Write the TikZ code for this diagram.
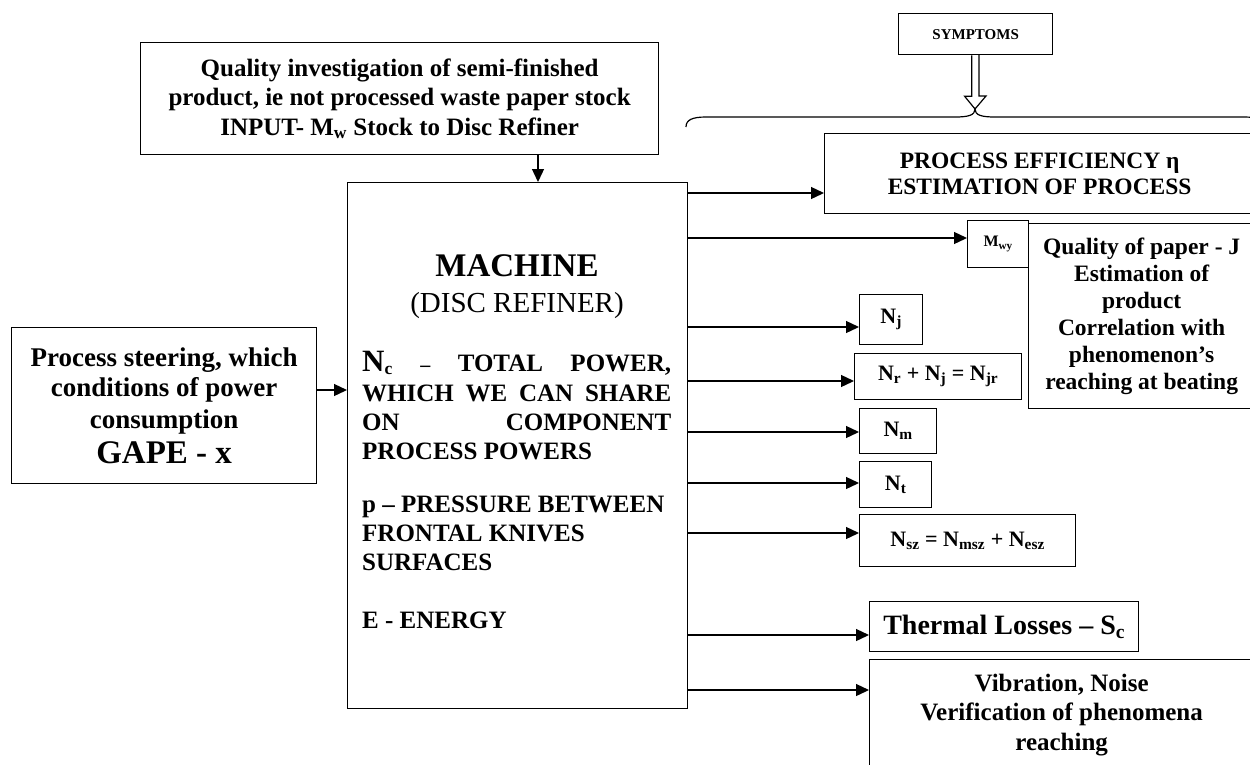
\documentclass[tikz,border=0pt]{standalone}
\usepackage{fontspec}
\setmainfont{Liberation Serif}
\usetikzlibrary{arrows.meta}
\newcommand\fs[2]{\fontsize{#1}{#2}\selectfont}
\begin{document}
\begin{tikzpicture}[x=1pt,y=-1pt,
  box/.style={draw, line width=1.3pt, inner sep=0pt, align=center, anchor=north west},
  arr/.style={line width=1.3pt, -{Triangle[length=13pt,width=12pt]}},
  mtext/.style={anchor=base west, inner sep=0pt, font=\fs{25}{30}\bfseries},
]
\useasboundingbox (0,0) rectangle (1250,764);
\clip (0,0) rectangle (1250,764);

% input box
\node[box, minimum width=518, minimum height=112, font=\fs{25}{29.5}\bfseries] (inp) at (140,42)
 {Quality investigation of semi-finished\\ product, ie not processed waste paper stock\\ INPUT- M\textsubscript{w} Stock to Disc Refiner};

% steering box
\node[box, minimum width=305, minimum height=156, font=\fs{27}{30}\bfseries] (steer) at (11,327)
 {Process steering, which\\ conditions of power\\[2pt] consumption\\[5pt] {\fs{33}{37}\bfseries GAPE - x}};

% machine
\node[draw, line width=1.3pt, minimum width=340, minimum height=526, anchor=north west, inner sep=0pt] (mach) at (347,182) {};
\node[anchor=base, inner sep=0pt, font=\fs{33}{38}\bfseries] (mname) at (517,276) {MACHINE};
\node[anchor=base, inner sep=0pt, font=\fs{29}{34}] (msub) at (517,312) {(DISC REFINER)};
\node[mtext] (l1) at (362,371) {\makebox[309pt][s]{{\fs{31}{36}\bfseries N}\textsubscript{c}\hfill{\fs{20}{24}\bfseries --}\hfill TOTAL\hfill POWER,}};
\node[mtext] (l2) at (362,401) {\makebox[309pt][s]{WHICH\hfill WE\hfill CAN\hfill SHARE}};
\node[mtext] (l3) at (362,430) {\makebox[309pt][s]{ON\hfill COMPONENT}};
\node[mtext] (l4) at (362,459) {PROCESS POWERS};
\node[mtext] (l5) at (362,512) {p -- PRESSURE BETWEEN};
\node[mtext] (l6) at (362,541) {FRONTAL KNIVES};
\node[mtext] (l7) at (362,570) {SURFACES};
\node[mtext] (l8) at (362,628) {E - ENERGY};

% symptoms
\node[box, minimum width=154, minimum height=41, font=\fs{15}{18}\bfseries] (sym) at (898,13) {SYMPTOMS};
\coordinate (bt) at (975,109);
\draw[line width=1.2pt, fill=white] (sym.south) ++(-4,0) -- ++(0,41) -- ++(-7,0) -- (bt) -- ++(11,-13) -- ++(-7,0) -- ++(0,-41);
\draw[line width=1.2pt] (686,127) .. controls (686,120) and (692,117) .. (706,117) -- (955,117)
  .. controls (969,117) and (975,115) .. (bt) .. controls (975,115) and (981,117) .. (995,117)
  -- (1244,117) .. controls (1258,117) and (1264,120) .. (1264,127);

% right column
\node[box, minimum width=430, minimum height=80, font=\fs{23.5}{26.5}\bfseries] (eff) at (824,133)
 {PROCESS EFFICIENCY η\\ ESTIMATION OF PROCESS};
\node[box, minimum width=61, minimum height=47, font=\fs{16}{19}\bfseries] (mwy) at (967,220) {M\textsubscript{wy}};
\node[box, minimum width=226, minimum height=185, font=\fs{23.5}{27}\bfseries] (qual) at (1028,223)
 {Quality of paper - J\\ Estimation of\\ product\\ Correlation with\\ phenomenon’s\\ reaching at beating};
\node[box, minimum width=63, minimum height=50, font=\fs{22}{26}\bfseries] (nj) at (859,294) {N\textsubscript{j}};
\node[box, minimum width=167, minimum height=46, font=\fs{22}{26}\bfseries] (nr) at (854,353)
 {N\textsubscript{r} + N\textsubscript{j} = N\textsubscript{jr}};
\node[box, minimum width=77, minimum height=45, font=\fs{22}{26}\bfseries] (nm) at (859,408) {N\textsubscript{m}};
\node[box, minimum width=72, minimum height=46, font=\fs{22}{26}\bfseries] (nt) at (859,461) {N\textsubscript{t}};
\node[box, minimum width=216, minimum height=52, font=\fs{22}{26}\bfseries] (nsz) at (859,514)
 {N\textsubscript{sz} = N\textsubscript{msz} + N\textsubscript{esz}};
\node[box, minimum width=269, minimum height=50, font=\fs{28}{32}\bfseries] (therm) at (869,601)
 {Thermal Losses -- S\textsubscript{c}};
\node[box, minimum width=384, minimum height=110, font=\fs{25}{29.5}\bfseries] (vib) at (869,659)
 {Vibration, Noise\\ Verification of phenomena\\ reaching};

% arrow levels
\coordinate (xt) at (538,0);
\coordinate (yl) at (0,390);
\coordinate (a1) at (0,193);
\coordinate (a2) at (0,238);
\coordinate (a3) at (0,327);
\coordinate (a4) at (0,381);
\coordinate (a5) at (0,432);
\coordinate (a6) at (0,483);
\coordinate (a7) at (0,533);
\coordinate (a8) at (0,635);
\coordinate (a9) at (0,690);

\draw[arr] (inp.south -| xt) -- (mach.north -| xt);
\draw[arr] (steer.east |- yl) -- (mach.west |- yl);
\draw[arr] (mach.east |- a1) -- (eff.west |- a1);
\draw[arr] (mach.east |- a2) -- (mwy.west |- a2);
\draw[arr] (mach.east |- a3) -- (nj.west |- a3);
\draw[arr] (mach.east |- a4) -- (nr.west |- a4);
\draw[arr] (mach.east |- a5) -- (nm.west |- a5);
\draw[arr] (mach.east |- a6) -- (nt.west |- a6);
\draw[arr] (mach.east |- a7) -- (nsz.west |- a7);
\draw[arr] (mach.east |- a8) -- (therm.west |- a8);
\draw[arr] (mach.east |- a9) -- (vib.west |- a9);
\end{tikzpicture}
\end{document}
